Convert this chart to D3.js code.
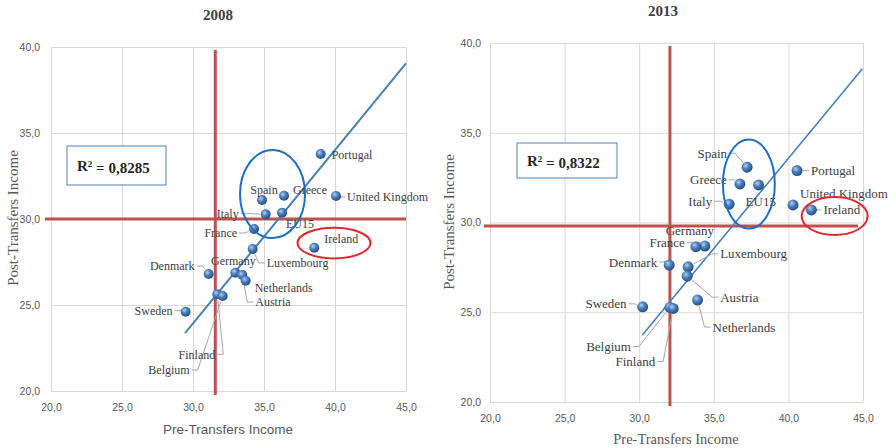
<!DOCTYPE html>
<html>
<head>
<meta charset="utf-8">
<script src="https://cdn.jsdelivr.net/npm/d3@7"></script>
<style>
  body { margin: 0; background: #fff; }
  svg { display: block; }
</style>
</head>
<body>
<svg id="chart" width="896" height="448"></svg>
<script>
// ---- data ----
const countries08 = ["Portugal", "United Kingdom", "Spain", "Greece", "Italy", "EU15", "France", "Ireland",
  "Luxembourg", "Germany", "Austria", "Netherlands", "Denmark", "Finland", "Belgium", "Sweden"];
const pre08  = [38.99, 40.07, 34.86, 36.41, 35.12, 36.27, 34.30, 38.54, 34.20, 32.98, 33.47, 33.71, 31.10, 31.71, 32.09, 29.48];
const post08 = [33.78, 31.34, 31.10, 31.35, 30.27, 30.37, 29.42, 28.33, 28.26, 26.88, 26.74, 26.41, 26.80, 25.62, 25.52, 24.61];

const countries13 = ["Spain", "Portugal", "Greece", "EU15", "Italy", "United Kingdom", "Ireland", "Germany",
  "France", "Denmark", "Luxembourg", "Austria", "Sweden", "Belgium", "Finland", "Netherlands"];
const pre13  = [37.23, 40.58, 36.75, 38.00, 36.03, 40.31, 41.54, 34.40, 33.80, 32.01, 33.28, 33.22, 30.23, 32.06, 32.28, 33.91];
const post13 = [33.08, 32.89, 32.15, 32.09, 31.02, 30.98, 30.70, 28.69, 28.65, 27.63, 27.53, 27.01, 25.30, 25.27, 25.21, 25.68];

const titles = ["2008", "2013"];
const rSquared = ["0,8285", "0,8322"];
const xTicks = [20, 25, 30, 35, 40, 45];
const yTicks = [20, 25, 30, 35, 40];
// trend line end points [pre, post]
const trend08 = [[29.44, 23.37], [45.0, 39.05]];
const trend13 = [[30.20, 23.72], [44.96, 38.57]];
// reference (average) lines
const vRef = [31.57, 32.06];
const hRef = [30.0, 29.8];
// highlighted groups: centre x, centre y, radius x, radius y (data units)
const blueRing = [[35.6, 31.45, 2.29, 2.56], [37.35, 32.14, 1.74, 2.48]];
const redRing  = [[39.93, 28.6, 2.57, 0.89], [43.1, 30.36, 2.21, 1.06]];

// ---- label placement (pixels: dx, dy, anchor, leader) ----
const labels08 = {
  "Portugal": [11, 1, "start", 0], "United Kingdom": [11, 1, "start", 1], "Spain": [2, -10, "middle", 0],
  "Greece": [9, -6, "start", 0], "Italy": [-27, -1, "end", 1], "EU15": [4, 11, "start", 0],
  "France": [-17, 4, "end", 1], "Ireland": [10, -9, "start", 0], "Luxembourg": [14, 14, "start", 1],
  "Germany": [-2, -12, "middle", 0], "Austria": [13, 27, "start", 1], "Netherlands": [9, 7, "start", 0],
  "Denmark": [-14, -8, "end", 1], "Finland": [-2, 60, "end", 1], "Belgium": [-33, 74, "end", 1],
  "Sweden": [-13, -1, "end", 1]
};
const labels13 = {
  "Spain": [-20, -14, "end", 1], "Portugal": [14, 0, "start", 1], "Greece": [-13, -4, "end", 1],
  "EU15": [-13, 16, "start", 0], "Italy": [-17, -3, "end", 1], "United Kingdom": [7, -11, "start", 0],
  "Ireland": [12, 0, "start", 1], "Germany": [-15, -16, "middle", 0], "France": [-11, -4, "end", 1],
  "Denmark": [-12, -3, "end", 1], "Luxembourg": [32, -13, "start", 1], "Austria": [33, 21, "start", 1],
  "Sweden": [-16, -3, "end", 1], "Belgium": [-39, 39, "end", 1], "Finland": [-18, 53, "end", 1],
  "Netherlands": [15, 27, "start", 1]
};

const svg = d3.select("#chart");
const comma = d => d3.format(".1f")(d).replace(".", ",");
const serif = "Liberation Serif, Times New Roman, serif";
const sans = "Liberation Sans, Arial, sans-serif";

// point gradient
const grad = svg.append("defs").append("radialGradient")
  .attr("id", "ball").attr("cx", "38%").attr("cy", "35%").attr("r", "65%");
grad.append("stop").attr("offset", "0%").attr("stop-color", "#b5d0ef");
grad.append("stop").attr("offset", "45%").attr("stop-color", "#4f81bd");
grad.append("stop").attr("offset", "100%").attr("stop-color", "#244f82");

const panels = [
  { names: countries08, xs: pre08, ys: post08, trend: trend08, lab: labels08, fs: 12, r: 5,
    left: 51, right: 406, bottom: 391, top: 47, title: [218, 20], box: [67, 146, 99, 39],
    xLab: [228, 434], xLabFont: sans, xLabSize: 13.5, yLab: [13, 218] },
  { names: countries13, xs: pre13, ys: post13, trend: trend13, lab: labels13, fs: 13, r: 5.5,
    left: 490, right: 863, bottom: 402, top: 43, title: [663, 16], box: [517, 143, 100, 35],
    xLab: [676, 444], xLabFont: serif, xLabSize: 14.5, yLab: [449, 222] }
];

panels.forEach(function(p, i) {
  const x = d3.scaleLinear().domain([20, 45]).range([p.left, p.right]);
  const y = d3.scaleLinear().domain([20, 40]).range([p.bottom, p.top]);
  const g = svg.append("g");

  // grid + axes
  g.append("g")
    .attr("transform", `translate(0,${p.bottom})`)
    .call(d3.axisBottom(x).tickValues(xTicks).tickFormat(comma).tickSize(-(p.bottom - p.top)).tickPadding(13))
    .call(a => a.select(".domain").remove())
    .call(a => a.selectAll("line").attr("stroke", "#d9d9d9"))
    .call(a => a.selectAll("text").attr("fill", "#595959").attr("font-family", sans).attr("font-size", 10.5));
  g.append("g")
    .attr("transform", `translate(${p.left},0)`)
    .call(d3.axisLeft(y).tickValues(yTicks).tickFormat(comma).tickSize(-(p.right - p.left)).tickPadding(i ? 9 : 11))
    .call(a => a.select(".domain").remove())
    .call(a => a.selectAll("line").attr("stroke", "#d9d9d9"))
    .call(a => a.selectAll("text").attr("fill", "#595959").attr("font-family", sans).attr("font-size", 10.5));

  // titles
  g.append("text").attr("x", p.title[0]).attr("y", p.title[1]).attr("text-anchor", "middle")
    .attr("fill", "#404040").attr("font-family", serif).attr("font-weight", "bold").attr("font-size", 15)
    .text(titles[i]);
  g.append("text").attr("x", p.xLab[0]).attr("y", p.xLab[1]).attr("text-anchor", "middle")
    .attr("fill", "#595959").attr("font-family", p.xLabFont).attr("font-size", p.xLabSize)
    .text("Pre-Transfers Income");
  g.append("text").attr("transform", `translate(${p.yLab[0]},${p.yLab[1]}) rotate(-90)`)
    .attr("text-anchor", "middle").attr("dy", "0.35em")
    .attr("fill", "#595959").attr("font-family", serif).attr("font-size", 15)
    .text("Post-Transfers Income");

  // red reference lines
  g.append("line").attr("x1", x(vRef[i])).attr("x2", x(vRef[i]))
    .attr("y1", p.top + 3).attr("y2", p.bottom + 4)
    .attr("stroke", "#c0504d").attr("stroke-width", 3);
  g.append("line").attr("x1", p.left - 6).attr("x2", i ? p.right - 5 : p.right)
    .attr("y1", y(hRef[i])).attr("y2", y(hRef[i]))
    .attr("stroke", "#c0504d").attr("stroke-width", 3);

  // trend line
  g.append("line")
    .attr("x1", x(p.trend[0][0])).attr("y1", y(p.trend[0][1]))
    .attr("x2", x(p.trend[1][0])).attr("y2", y(p.trend[1][1]))
    .attr("stroke", "#4a7ebb").attr("stroke-width", i ? 1.6 : 2);

  // leaders
  const pts = p.names.map((n, k) => ({ name: n, px: x(p.xs[k]), py: y(p.ys[k]), pos: p.lab[n] }));
  g.append("g").selectAll("polyline")
    .data(pts.filter(d => d.pos[3]))
    .join("polyline")
      .attr("points", function(d) {
        const lx = d.pos[2] === "end" ? d.px + d.pos[0] + 2 : d.px + d.pos[0] - 2;
        const ly = d.py + d.pos[1];
        const kx = d.pos[2] === "end" ? lx + 6 : lx - 6;
        const ang = Math.atan2(ly - d.py, kx - d.px);
        const ex = d.px + Math.cos(ang) * (p.r + 1), ey = d.py + Math.sin(ang) * (p.r + 1);
        return [[lx, ly], [kx, ly], [ex, ey]].join(" ");
      })
      .attr("fill", "none").attr("stroke", "#a6a6a6").attr("stroke-width", 1);

  // points
  g.append("g").selectAll("circle")
    .data(pts)
    .join("circle")
      .attr("cx", d => d.px).attr("cy", d => d.py).attr("r", p.r)
      .attr("fill", "url(#ball)");

  // labels
  g.append("g").selectAll("text")
    .data(pts)
    .join("text")
      .attr("x", d => d.px + d.pos[0]).attr("y", d => d.py + d.pos[1])
      .attr("dy", "0.35em").attr("text-anchor", d => d.pos[2])
      .attr("fill", "#404040").attr("font-family", serif).attr("font-size", p.fs)
      .text(d => d.name);

  // ellipses
  const b = blueRing[i], rr = redRing[i];
  g.append("ellipse").attr("cx", x(b[0])).attr("cy", y(b[1]))
    .attr("rx", x(b[0] + b[2]) - x(b[0])).attr("ry", y(b[1]) - y(b[1] + b[3]))
    .attr("fill", "none").attr("stroke", "#1f6fc0").attr("stroke-width", 2);
  g.append("ellipse").attr("cx", x(rr[0])).attr("cy", y(rr[1]))
    .attr("rx", x(rr[0] + rr[2]) - x(rr[0])).attr("ry", y(rr[1]) - y(rr[1] + rr[3]))
    .attr("fill", "none").attr("stroke", "#e3262a").attr("stroke-width", 2);

  // R squared box
  g.append("rect").attr("x", p.box[0]).attr("y", p.box[1]).attr("width", p.box[2]).attr("height", p.box[3])
    .attr("fill", "#fff").attr("stroke", "#4f81bd").attr("stroke-width", 1);
  const t = g.append("text").attr("x", p.box[0] + 10).attr("y", p.box[1] + p.box[3] / 2)
    .attr("dy", "0.35em").attr("fill", "#262626")
    .attr("font-family", serif).attr("font-weight", "bold").attr("font-size", 15);
  t.append("tspan").text("R");
  t.append("tspan").attr("dy", "-0.45em").attr("font-size", 9).text("2");
  t.append("tspan").attr("dy", "0.45em").text(" = " + rSquared[i]);
});
</script>
</body>
</html>
